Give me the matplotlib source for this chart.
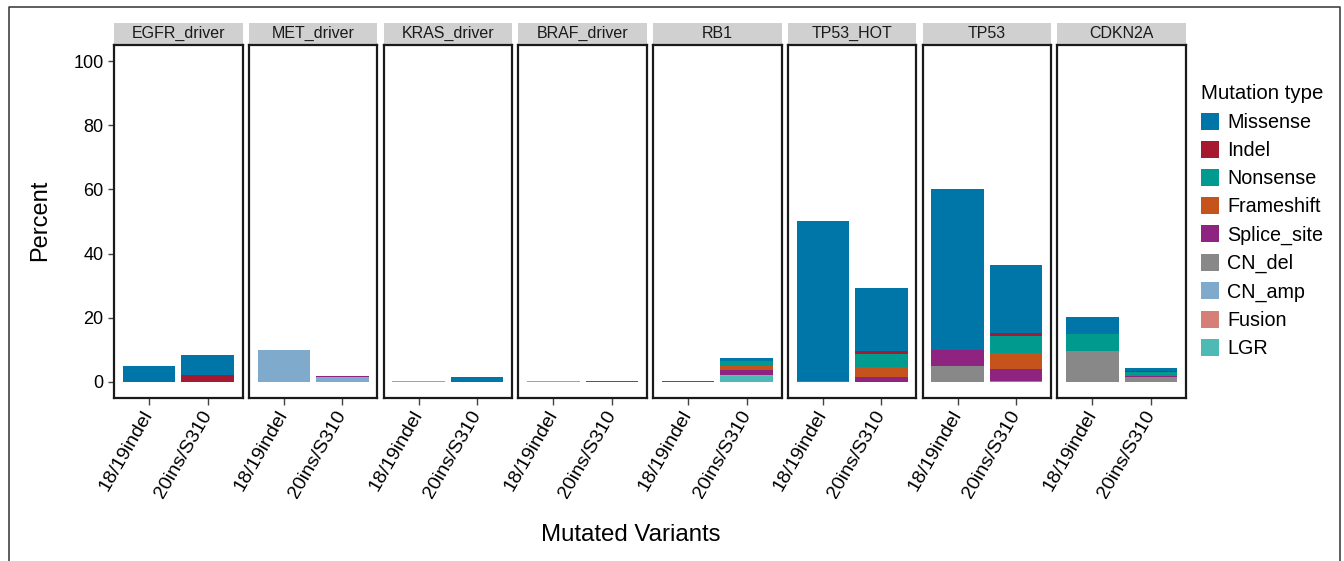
import matplotlib
matplotlib.use("Agg")
import matplotlib.pyplot as plt
from matplotlib.patches import Patch, Rectangle
from matplotlib.lines import Line2D
import numpy as np

plt.rcParams['font.family'] = ['Liberation Sans', 'DejaVu Sans']

# facets and x categories
genes = ['EGFR_driver', 'MET_driver', 'KRAS_driver', 'BRAF_driver',
         'RB1', 'TP53_HOT', 'TP53', 'CDKN2A']
variants = ['18/19indel', '20ins/S310']

# mutation types (legend order) and colours
mut_types = ['Missense', 'Indel', 'Nonsense', 'Frameshift', 'Splice_site',
             'CN_del', 'CN_amp', 'Fusion', 'LGR']
mut_colors = ['#0076A8', '#A6192E', '#009A8E', '#C4541C', '#8E2380',
              '#888888', '#7FAACB', '#D67F77', '#4DBAB3']

# percent per gene: (18/19indel, 20ins/S310), genes in the order above
missense    = [5.0, 6.3, 0, 0, 0, 1.6, 0, 0.3, 0.2, 0.9, 49.9, 19.6, 50.0, 21.1, 5.3, 0.9]
indel       = [0, 2.1, 0, 0, 0, 0, 0, 0, 0, 0, 0, 0.95, 0, 1.0, 0, 0.2]
nonsense    = [0, 0, 0, 0, 0, 0, 0, 0, 0, 1.45, 0, 4.15, 0, 5.3, 5.1, 1.35]
frameshift  = [0, 0, 0, 0, 0, 0, 0, 0, 0, 1.35, 0.3, 3.0, 0, 4.95, 0, 0]
splice_site = [0, 0, 0.15, 0.35, 0, 0, 0, 0, 0, 1.35, 0, 1.55, 5.0, 3.65, 0, 0.3]
cn_del      = [0, 0, 0, 0, 0, 0, 0, 0, 0, 0, 0, 0, 5.0, 0.4, 9.8, 1.45]
cn_amp      = [0, 0, 9.9, 1.5, 0.25, 0, 0.25, 0, 0, 0.3, 0, 0, 0, 0, 0, 0]
fusion      = [0] * 16
lgr         = [0, 0, 0, 0, 0, 0, 0, 0, 0, 2.0, 0, 0, 0, 0, 0, 0]

series = [missense, indel, nonsense, frameshift, splice_site,
          cn_del, cn_amp, fusion, lgr]

W, H = 1344, 561
fig = plt.figure(figsize=(W / 100, H / 100), dpi=100)

# outer frame (open at the bottom)
fig.add_artist(Line2D([9 / W, 9 / W, 1340 / W, 1340 / W],
                      [0, 1 - 7 / H, 1 - 7 / H, 0],
                      transform=fig.transFigure, color='#333333', lw=1.1))

panel_left, panel_right = 114, 1186
gap = 6
pw = (panel_right - panel_left - gap * (len(genes) - 1)) / len(genes)
ptop, pbot = 45, 398
strip_h = 21

x = np.arange(1, len(variants) + 1)
for gi, gene in enumerate(genes):
    left = panel_left + gi * (pw + gap)
    ax = fig.add_axes([left / W, 1 - pbot / H, pw / W, (pbot - ptop) / H])
    bottom = np.zeros(len(variants))
    # ggplot stacks the first level on top -> draw in reverse order
    for name, col, vals in reversed(list(zip(mut_types, mut_colors, series))):
        v = np.array(vals[gi * 2: gi * 2 + 2], dtype=float)
        ax.bar(x, v, width=0.9, bottom=bottom, color=col, linewidth=0)
        bottom += v
    ax.set_xlim(0.4, 2.6)
    ax.set_ylim(-5, 105)
    ax.set_xticks(x)
    ax.set_xticklabels(variants, rotation=60, ha='right', va='center',
                       rotation_mode='anchor', fontsize=14)
    ax.tick_params(axis='x', length=5, width=1, color='#444444', pad=5)
    ax.set_yticks([0, 20, 40, 60, 80, 100])
    if gi == 0:
        ax.tick_params(axis='y', length=4.5, width=1, color='#444444',
                       labelsize=13, pad=3)
    else:
        ax.tick_params(axis='y', length=0, labelleft=False)
    for s in ax.spines.values():
        s.set_linewidth(1.6)
        s.set_color('#1a1a1a')
    # facet strip
    sh = strip_h / (pbot - ptop)
    ax.add_patch(Rectangle((0, 1.004), 1, sh, transform=ax.transAxes,
                           facecolor='#D0D0D0', edgecolor='none', clip_on=False))
    ax.text(0.5, 1.004 + sh / 2, gene, transform=ax.transAxes, ha='center',
            va='center', fontsize=11.5, color='#1a1a1a')

fig.text(40 / W, 1 - 220 / H, 'Percent', rotation=90, ha='center', va='center',
         fontsize=17)
fig.text(631 / W, 1 - 535 / H, 'Mutated Variants', ha='center', va='center',
         fontsize=17.3)

handles = [Patch(facecolor=c, edgecolor='none', label=n)
           for n, c in zip(mut_types, mut_colors)]
leg = fig.legend(handles=handles, title='Mutation type', loc='upper left',
                 bbox_to_anchor=(1195 / W, 1 - 78 / H), frameon=False,
                 fontsize=14.2, title_fontsize=14.7, handlelength=0.92,
                 handleheight=0.95, labelspacing=0.45, handletextpad=0.4,
                 borderaxespad=0, borderpad=0.3)
leg._legend_box.align = 'left'
leg._legend_box.sep = 7

fig.savefig('out.png', dpi=100)
